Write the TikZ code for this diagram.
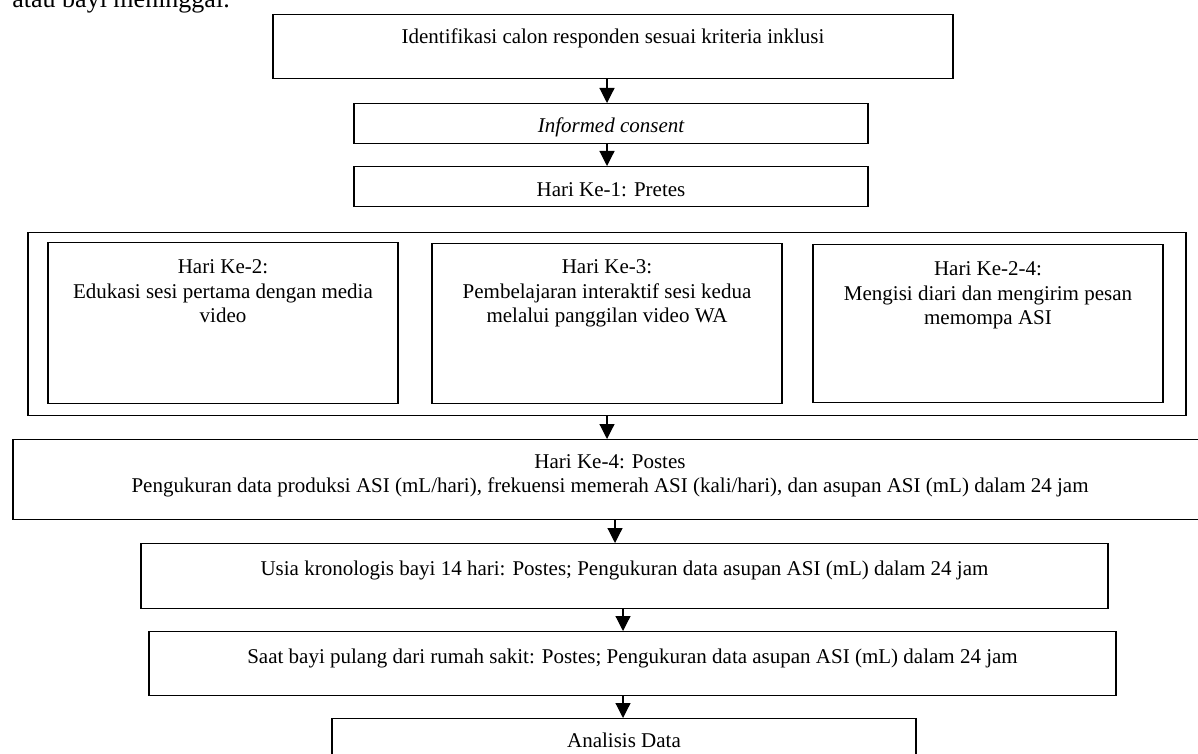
\documentclass[tikz,border=0pt]{standalone}
\usepackage{fontspec}
\setmainfont{Liberation Serif}
\usetikzlibrary{arrows.meta}

\begin{document}
\begin{tikzpicture}[x=0.5pt,y=-0.5pt,
    box/.style={draw, line width=0.6pt, inner sep=0pt, anchor=north, align=center,
      font=\fontsize{10.5pt}{12.25pt}\selectfont},
    arr/.style={line width=0.6pt, -{Triangle[length=7.5pt,width=7.5pt]}}]
  \useasboundingbox (0,0) rectangle (1198,754);
  % Text above the chart
  \node[anchor=base west, inner sep=0pt, font=\fontsize{13pt}{15pt}\selectfont] (intro) at (12,8) {atau bayi meninggal.};
  % Define boxes
  \node[box, minimum width=340pt, text height=14.5pt, text depth=17.5pt] (ident) at (613,14)
    {Identifikasi calon responden sesuai kriteria inklusi};
  \node[box, minimum width=257pt, text height=14.5pt, text depth=5.5pt] (cons) at (611,103)
    {\itshape Informed consent};
  \node[box, minimum width=257pt, text height=15pt, text depth=5pt] (pre) at (611,166)
    {Hari Ke-1: Pretes};
  % Intervention days
  \node[box, minimum width=579pt, minimum height=91.5pt] (days) at (607,232) {};
  \node[box, minimum width=175pt, text height=40pt, text depth=40.5pt] (dayb) at (223,242)
    {Hari Ke-2:\\Edukasi sesi pertama dengan media\\video};
  \node[box, minimum width=175pt, text height=39.5pt, text depth=40.5pt] (dayc) at (607,243)
    {Hari Ke-3:\\Pembelajaran interaktif sesi kedua\\melalui panggilan video WA};
  \node[box, minimum width=175pt, text height=40pt, text depth=39pt] (dayd) at (988,244)
    {Hari Ke-2-4:\\Mengisi diari dan mengirim pesan\\memompa ASI};
  % Posttests
  \node[box, minimum width=597pt, text height=26.5pt, text depth=13.5pt] (post) at (610,439)
    {Hari Ke-4: Postes\\Pengukuran data produksi ASI (mL/hari), frekuensi memerah ASI (kali/hari), dan asupan ASI (mL) dalam 24 jam};
  \node[box, minimum width=483.5pt, text height=16pt, text depth=16.5pt] (age) at (624.5,543)
    {Usia kronologis bayi 14 hari: Postes; Pengukuran data asupan ASI (mL) dalam 24 jam};
  \node[box, minimum width=483.5pt, text height=16pt, text depth=16pt] (home) at (632.5,631)
    {Saat bayi pulang dari rumah sakit: Postes; Pengukuran data asupan ASI (mL) dalam 24 jam};
  \node[box, minimum width=292pt, text height=14.5pt, text depth=15pt] (anl) at (624,718)
    {Analisis Data};
  % Arrows
  \draw[arr] ([xshift=-3pt]ident.south) -- ([xshift=-2pt]cons.north);
  \draw[arr] ([xshift=-2pt]cons.south) -- ([xshift=-2pt]pre.north);
  \draw[arr] (days.south) -- ([xshift=-1.5pt]post.north);
  \draw[arr] ([xshift=2.5pt]post.south) -- ([xshift=-4.75pt]age.north);
  \draw[arr] ([xshift=-0.75pt]age.south) -- ([xshift=-4.75pt]home.north);
  \draw[arr] ([xshift=-4.75pt]home.south) -- ([xshift=-0.5pt]anl.north);
\end{tikzpicture}
\end{document}
